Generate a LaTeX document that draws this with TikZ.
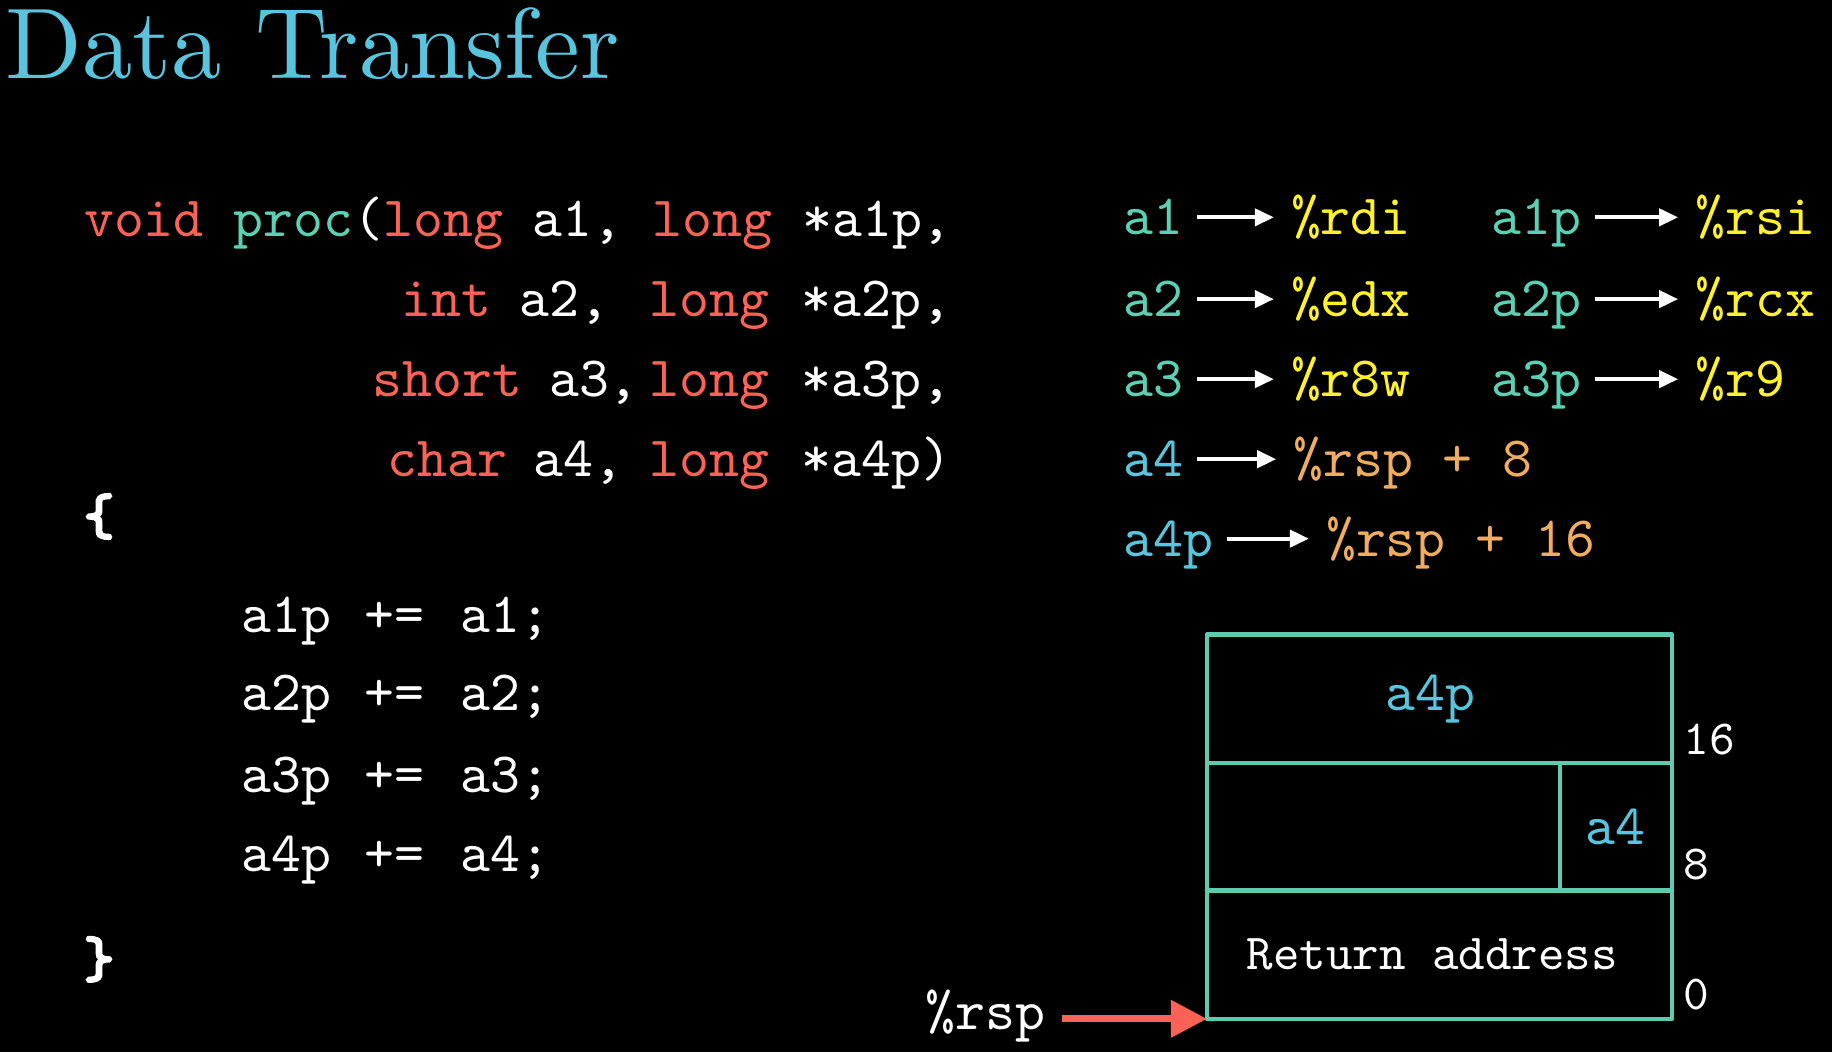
\documentclass[tikz,border=0pt]{standalone}
\usepackage{fontspec}
\newfontfamily\bracefont{lmmono10-regular.otf}[FakeBold=5]
\usetikzlibrary{arrows.meta}
\definecolor{kw}{HTML}{FC6255}
\definecolor{tl}{HTML}{5CD0B3}
\definecolor{bluec}{HTML}{58C4DD}
\definecolor{yl}{HTML}{FFF22A}
\definecolor{gd}{HTML}{F0AC5F}
\definecolor{boxc}{HTML}{5CCBAE}
\begin{document}
\begin{tikzpicture}[x=1.1684pt,y=-1.1684pt,
  tt/.style={anchor=base west, inner sep=0pt, font=\fontsize{10}{12}\selectfont\ttfamily, text=white},
  code/.style={tt, scale=5.7},
  small/.style={tt, scale=5.05},
  num/.style={tt, scale=4.9},
  brace/.style={code, font=\fontsize{10}{12}\selectfont\bracefont},
  warr/.style={draw=white, line width=4pt, -{Triangle[length=19pt,width=17pt]}},
  rarr/.style={draw=kw, line width=7pt, -{Triangle[length=36pt,width=36pt]}},
  stk/.style={draw=boxc, line width=4.5pt, line cap=round, line join=round}]
\fill[black] (0,0) rectangle (1568,900.4);
\useasboundingbox (0,0) rectangle (1568,900.4);

% title
\node[anchor=base west, inner sep=0pt, text=bluec, font=\fontsize{10}{12}\selectfont\rmfamily, scale=10.05] (title) at (3,67.5) {Data Transfer};

% signature
\node[code] (l1) at (71,202) {\color{kw}void \color{tl}proc\color{white}(\color{kw}long \color{white}a1, \color{kw}long \color{white}*a1p,};
\node[code,text=kw] (l2a) at (343,271) {int};
\node[code] (l2b) at (444,271) {a2,};
\node[code,text=kw] (l2c) at (555,271) {long};
\node[code] (l2d) at (685,271) {*a2p,};
\node[code,text=kw] (l3a) at (318,339) {short};
\node[code] (l3b) at (469,339) {a3,};
\node[code,text=kw] (l3c) at (555,339) {long};
\node[code] (l3d) at (685,339) {*a3p,};
\node[code,text=kw] (l4a) at (331,408) {char};
\node[code] (l4b) at (456,408) {a4,};
\node[code,text=kw] (l4c) at (555,408) {long};
\node[code] (l4d) at (685,408) {*a4p)};

% body
\node[brace] (lb) at (71,457) {\{};
\foreach \i/\y in {1/541,2/608.5,3/678,4/745.5}{
  \node[code] (b\i a) at (206,\y) {a\i p};
  \node[code] (b\i b) at (311,\y) {+=};
  \node[code] (b\i c) at (393,\y) {a\i;};
}
\node[brace] (rb) at (71,836) {\}};

% register mapping
\node[code,text=tl] (a1) at (961,201) {a1};
\node[code,text=yl] (rdi) at (1104,201) {\%rdi};
\node[code,text=tl] (a2) at (961,271) {a2};
\node[code,text=yl] (edx) at (1104,271) {\%edx};
\node[code,text=tl] (a3) at (961,339.5) {a3};
\node[code,text=yl] (r8w) at (1104,339.5) {\%r8w};
\node[code,text=bluec] (a4) at (961,408) {a4};
\node[code,text=gd] (rsp8) at (1106,408) {\%rsp + 8};
\node[code,text=bluec] (a4p) at (961,476) {a4p};
\node[code,text=gd] (rsp16) at (1134,476) {\%rsp + 16};
\node[code,text=tl] (a1p) at (1276,201) {a1p};
\node[code,text=yl] (rsi) at (1450,201) {\%rsi};
\node[code,text=tl] (a2p) at (1276,271) {a2p};
\node[code,text=yl] (rcx) at (1450,271) {\%rcx};
\node[code,text=tl] (a3p) at (1276,339.5) {a3p};
\node[code,text=yl] (r9) at (1450,339.5) {\%r9};

\foreach \s/\t in {a1/rdi,a2/edx,a3/r8w,a4/rsp8,a4p/rsp16,a1p/rsi,a2p/rcx,a3p/r9}{
  \draw[warr] ([xshift=12pt,yshift=17.5pt]\s.base east) -- ([xshift=-16pt,yshift=17.5pt]\t.base west);
}

% stack frame
\coordinate (sbl) at (1033,872);
\coordinate (str) at (1431,543);
\coordinate (sl1) at (1033,653);
\coordinate (sr1) at (1431,653);
\coordinate (sl2) at (1033,762);
\coordinate (sr2) at (1431,762);
\coordinate (sd1) at (1335,653);
\coordinate (sd2) at (1335,762);
\draw[stk] (sbl) rectangle (str);
\draw[stk] (sl1) -- (sr1);
\draw[stk] (sl2) -- (sr2);
\draw[stk] (sd1) -- (sd2);

\node[code,text=bluec] (ca4p) at (1185,608) {a4p};
\node[code,text=bluec] (ca4) at (1356,722.5) {a4};
\node[small] (ret) at (1066,830) {Return address};
\node[num] (n16) at (1440,646) {16};
\node[num] (n8) at (1440,753) {8};
\node[num] (n0) at (1440,864) {0};

% rsp pointer
\node[code] (rsp) at (791,881) {\%rsp};
\coordinate (rs) at ([xshift=16pt]rsp.base east);
\draw[rarr] (rs |- sbl) -- (sbl);
\end{tikzpicture}
\end{document}
